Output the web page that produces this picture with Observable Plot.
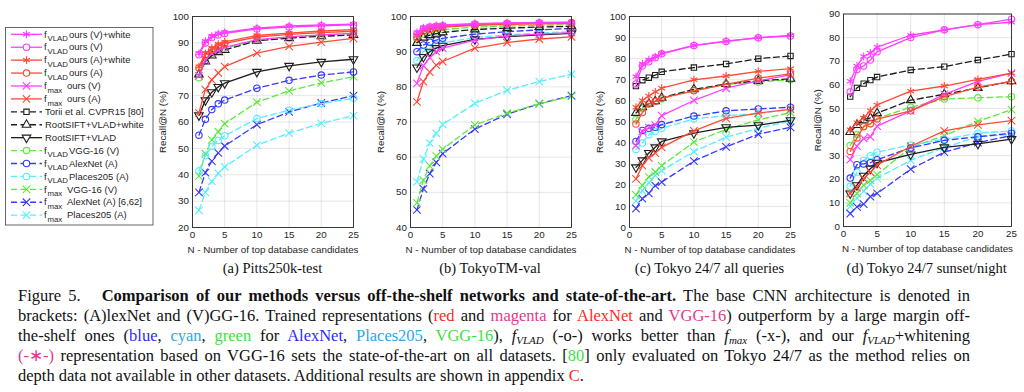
<!DOCTYPE html>
<html><head><meta charset="utf-8">
<script src="https://cdn.jsdelivr.net/npm/d3@7"></script>
<script src="https://cdn.jsdelivr.net/npm/@observablehq/plot@0.6"></script>
<style>
html,body{margin:0;padding:0;background:#fff;width:1024px;height:392px;overflow:hidden;}
#root{position:relative;width:1024px;height:392px;}
.panel{position:absolute;top:0;}
.panel svg{overflow:visible;}
.sub{position:absolute;top:258px;width:240px;text-align:center;font-family:"Liberation Serif","Times New Roman",serif;font-size:14.5px;line-height:20px;color:#111;}
#caption{position:absolute;left:18px;top:286px;width:952px;font-family:"Liberation Serif","Times New Roman",serif;font-size:16.5px;line-height:20px;color:#111;}
#caption div{white-space:nowrap;text-align:justify;text-align-last:justify;}
#caption div.last{text-align-last:left;}
#caption sub{font-size:11px;vertical-align:-3px;line-height:0;font-style:italic;}
.gap{display:inline-block;width:21px;}
.cr{color:#ff2a1a}.cm{color:#e2388e}.cb{color:#2b2bff}.cc{color:#2ea6e6}.cg{color:#3fe03f}
</style></head><body><div id="root"></div>
<script>
// ---------- data ----------
const N = [1, 2, 3, 4, 5, 10, 15, 20, 25];
const seriesNames = [
  "f_VLAD ours (V)+white", "f_VLAD ours (V)", "f_VLAD ours (A)+white", "f_VLAD ours (A)",
  "f_max ours (V)", "f_max ours (A)", "Torii et al. CVPR15 [80]", "RootSIFT+VLAD+white",
  "RootSIFT+VLAD", "f_VLAD VGG-16 (V)", "f_VLAD AlexNet (A)", "f_VLAD Places205 (A)",
  "f_max VGG-16 (V)", "f_max AlexNet (A) [6,62]", "f_max Places205 (A)"
];
const xTicks = [0, 5, 10, 15, 20, 25];
const panelTitles = ["(a) Pitts250k-test", "(b) TokyoTM-val", "(c) Tokyo 24/7 all queries", "(d) Tokyo 24/7 sunset/night"];
const yTicksPitts = [20, 30, 40, 50, 60, 70, 80, 90, 100];
const yTicksTokyoTM = [40, 50, 60, 70, 80, 90, 100];
const yTicksTokyoAll = [0, 10, 20, 30, 40, 50, 60, 70, 80, 90, 100];
const yTicksTokyoNight = [0, 10, 20, 30, 40, 50, 60, 70, 80, 90];

// Recall@N per series (rows in seriesNames order), null = not evaluated
const recallPitts250k = [
  [86.0, 90.6, 92.5, 93.5, 94.0, 95.6, 96.4, 96.8, 97.1],
  [85.5, 90.0, 92.0, 93.0, 93.6, 95.3, 96.0, 96.5, 96.8],
  [81.0, 86.0, 88.0, 89.5, 90.4, 92.8, 93.7, 94.5, 95.0],
  [80.5, 85.5, 87.4, 88.8, 89.8, 92.2, 93.2, 93.9, 94.4],
  [77.5, 83.5, 86.0, 87.3, 88.3, 91.2, 92.3, 93.0, 93.6],
  [63.5, 72.3, 76.0, 78.6, 81.0, 86.1, 88.7, 90.3, 91.7],
  null,
  [78.0, 83.0, 85.2, 86.5, 87.3, 90.8, 91.8, 92.5, 93.0],
  [62.5, 68.2, 71.3, 73.3, 74.7, 79.0, 81.3, 82.8, 83.8],
  [76.8, 83.2, 85.8, 87.0, 88.0, 91.0, 92.3, 93.0, 93.6],
  [55.0, 61.0, 64.7, 66.9, 68.3, 72.8, 75.8, 77.8, 79.0],
  [41.5, 47.2, 50.8, 53.0, 54.8, 61.3, 64.5, 67.0, 69.0],
  [39.5, 48.0, 53.2, 56.3, 59.4, 67.5, 71.8, 74.8, 77.2],
  [33.3, 40.8, 45.2, 48.3, 50.9, 59.0, 63.8, 67.2, 70.0],
  [26.5, 33.3, 37.5, 40.5, 43.0, 51.2, 55.8, 59.5, 62.4]
];
const recallTokyoTM = [
  [95.5, 96.8, 97.2, 97.4, 97.6, 98.0, 98.2, 98.3, 98.4],
  [95.0, 96.5, 97.0, 97.2, 97.4, 97.9, 98.1, 98.2, 98.3],
  [94.6, 96.2, 96.7, 97.0, 97.2, 97.7, 98.0, 98.1, 98.2],
  [94.0, 95.8, 96.3, 96.7, 97.0, 97.5, 97.8, 97.9, 98.0],
  [81.0, 86.0, 88.3, 90.0, 91.0, 93.3, 94.5, 95.0, 95.4],
  [75.7, 81.5, 84.2, 86.2, 87.2, 91.0, 92.6, 93.6, 94.2],
  null,
  [92.5, 94.0, 94.7, 95.1, 95.5, 96.3, 96.7, 97.0, 97.2],
  [85.5, 88.5, 90.0, 91.0, 91.7, 93.5, 94.3, 94.8, 95.2],
  [93.5, 95.0, 95.6, 96.0, 96.3, 97.0, 97.3, 97.5, 97.7],
  [90.0, 91.9, 92.7, 93.3, 93.8, 95.0, 95.7, 96.2, 96.6],
  [87.5, 90.0, 91.2, 92.0, 92.5, 94.0, 94.8, 95.3, 95.7],
  [47.0, 53.5, 57.5, 60.3, 62.3, 69.2, 72.5, 75.2, 77.3],
  [45.0, 51.0, 55.3, 58.5, 61.0, 68.0, 72.2, 75.2, 77.5],
  [53.0, 59.5, 64.0, 66.8, 69.3, 75.3, 79.0, 81.5, 83.6]
];
const recallTokyoAll = [
  [71.5, 77.5, 79.5, 81.0, 82.5, 86.3, 88.3, 90.0, 91.0],
  [68.0, 76.5, 78.5, 80.5, 82.3, 86.2, 88.2, 89.9, 90.8],
  [57.0, 60.2, 62.3, 64.3, 66.0, 70.0, 71.8, 74.0, 75.3],
  [49.0, 54.5, 58.7, 59.8, 61.3, 64.8, 67.8, 70.8, 72.8],
  [38.8, 45.5, 47.3, 48.5, 53.0, 60.2, 66.0, 69.5, 72.3],
  [23.0, 29.3, 33.0, 35.3, 38.0, 45.8, 51.7, 54.2, 56.0],
  [67.0, 69.8, 71.0, 72.2, 73.8, 75.8, 77.5, 80.0, 81.3],
  [54.3, 57.0, 58.7, 59.8, 61.5, 65.5, 68.0, 69.5, 70.5],
  [28.5, 31.8, 35.3, 38.0, 40.8, 44.7, 47.5, 48.5, 50.8],
  [51.2, 56.5, 58.5, 59.7, 61.0, 65.0, 67.8, 69.0, 70.0],
  [40.8, 46.0, 47.0, 47.5, 48.8, 52.8, 55.3, 56.2, 57.0],
  [37.0, 40.0, 44.0, 45.5, 47.0, 51.5, 53.0, 54.0, 56.0],
  [15.5, 20.0, 24.0, 26.3, 29.3, 40.5, 46.5, 51.0, 54.5],
  [9.0, 13.7, 16.2, 19.8, 21.5, 31.5, 38.2, 44.2, 47.5],
  [12.5, 17.5, 21.2, 24.7, 27.0, 36.0, 42.8, 47.0, 50.5]
];
const recallTokyoNight = [
  [61.5, 68.0, 72.0, 73.5, 76.0, 81.0, 83.3, 85.5, 86.5],
  [57.0, 66.5, 68.0, 70.5, 74.0, 80.0, 83.3, 85.5, 87.8],
  [41.0, 44.0, 46.0, 49.0, 51.5, 57.3, 59.5, 62.3, 65.0],
  [31.8, 37.5, 42.3, 43.5, 45.5, 49.0, 55.0, 59.0, 61.5],
  [28.3, 34.0, 37.3, 38.0, 42.5, 49.0, 56.0, 61.5, 65.0],
  [14.0, 16.5, 20.3, 23.0, 26.0, 34.0, 40.5, 43.0, 44.8],
  [55.0, 58.7, 60.5, 62.0, 63.3, 66.3, 67.7, 70.5, 73.0],
  [40.0, 43.0, 45.0, 46.0, 48.0, 53.5, 56.0, 58.7, 61.5],
  [14.0, 17.5, 21.5, 24.5, 27.0, 30.5, 33.5, 35.0, 37.0],
  [34.3, 39.0, 42.5, 43.5, 45.8, 50.5, 54.0, 54.5, 55.0],
  [20.5, 26.2, 26.5, 27.0, 28.3, 33.3, 36.5, 38.0, 39.5],
  [17.0, 23.0, 28.0, 30.0, 31.5, 34.5, 37.0, 39.5, 40.5],
  [10.0, 14.0, 17.5, 19.5, 22.0, 33.5, 38.5, 44.5, 49.5],
  [5.5, 8.3, 9.5, 12.7, 14.0, 24.3, 31.5, 35.5, 38.5],
  [8.5, 12.0, 15.0, 18.0, 20.5, 28.0, 33.5, 38.0, 39.0]
];

// ---------- styles ----------
const MAG = "#ff3dff", RED = "#ff4a38", BLK = "#1e1e1e", GRN = "#5ee83c", BLU = "#3838ff", CYN = "#55eeff";
const DASH = "6,3.5";
const sqrt3 = Math.sqrt(3);
const triangleDown = {
  draw(ctx, size) {
    const y = Math.sqrt(size / (sqrt3 * 3));
    ctx.moveTo(0, y * 2); ctx.lineTo(-sqrt3 * y, -y); ctx.lineTo(sqrt3 * y, -y); ctx.closePath();
  }
};
const triangleUp = {
  draw(ctx, size) {
    const y = Math.sqrt(size / (sqrt3 * 3));
    ctx.moveTo(0, -y * 2); ctx.lineTo(-sqrt3 * y, y); ctx.lineTo(sqrt3 * y, y); ctx.closePath();
  }
};
const seriesStyle = [
  {color: MAG, symbol: "asterisk", dash: null},
  {color: MAG, symbol: "circle", dash: null},
  {color: RED, symbol: "asterisk", dash: null},
  {color: RED, symbol: "circle", dash: null},
  {color: MAG, symbol: "times", dash: null},
  {color: RED, symbol: "times", dash: null},
  {color: BLK, symbol: "square", dash: DASH},
  {color: BLK, symbol: triangleUp, dash: DASH},
  {color: BLK, symbol: triangleDown, dash: null},
  {color: GRN, symbol: "circle", dash: DASH},
  {color: BLU, symbol: "circle", dash: DASH},
  {color: CYN, symbol: "circle", dash: DASH},
  {color: GRN, symbol: "times", dash: DASH},
  {color: BLU, symbol: "times", dash: DASH},
  {color: CYN, symbol: "times", dash: DASH}
];
const symbolRadius = {asterisk: 3.7, circle: 3.2, times: 3.5, square: 3.0};

const root = document.getElementById("root");

function drawPanel(values, yDomain, yTicks, box) {
  const rows = [];
  values.forEach((vals, s) => { if (vals) vals.forEach((r, j) => rows.push({series: s, n: N[j], recall: r})); });
  const marks = [
    Plot.gridX(xTicks, {stroke: "#000", strokeOpacity: 0.1}),
    Plot.gridY(yTicks, {stroke: "#000", strokeOpacity: 0.1})
  ];
  for (let s = seriesStyle.length - 1; s >= 0; --s) {
    const d = rows.filter(r => r.series === s);
    if (!d.length) continue;
    const st = seriesStyle[s];
    marks.push(Plot.line(d, {x: "n", y: "recall", stroke: st.color, strokeWidth: 1.3, strokeDasharray: st.dash}));
    marks.push(Plot.dot(d, {x: "n", y: "recall", symbol: st.symbol, stroke: st.color, fill: "none", strokeWidth: 1.1,
      r: typeof st.symbol === "string" ? symbolRadius[st.symbol] : 3.2}));
  }
  marks.push(Plot.frame({stroke: "#262626", strokeWidth: 0.9}));
  const svg = Plot.plot({
    width: box.width, height: 258,
    marginLeft: box.ml, marginRight: box.width - box.ml - box.fw,
    marginTop: box.mt, marginBottom: 258 - box.fb,
    x: {domain: [0, 25], ticks: xTicks, tickSize: 0, tickPadding: 4,
        label: "N - Number of top database candidates", labelAnchor: "center", labelOffset: 25, labelArrow: "none"},
    y: {domain: yDomain, ticks: yTicks, tickSize: 0, tickPadding: 3.5,
        label: "Recall@N (%)", labelAnchor: "center", labelOffset: box.lo, labelArrow: "none"},
    style: {fontFamily: "'Liberation Sans', Arial, sans-serif", fontSize: "9.8px", color: "#262626", background: "transparent", overflow: "visible"},
    marks
  });
  const div = document.createElement("div");
  div.className = "panel";
  div.style.left = box.left + "px";
  div.appendChild(svg);
  root.appendChild(div);
}

drawPanel(recallPitts250k, [20, 100], yTicksPitts, {left: 140, width: 220, ml: 52, fw: 161, mt: 16, fb: 227, lo: 33.5});
drawPanel(recallTokyoTM, [40, 100], yTicksTokyoTM, {left: 357.5, width: 220, ml: 52, fw: 161, mt: 16, fb: 227, lo: 33});
drawPanel(recallTokyoAll, [0, 100], yTicksTokyoAll, {left: 577.3, width: 220, ml: 52, fw: 161, mt: 16, fb: 227, lo: 33});
drawPanel(recallTokyoNight, [0, 90], yTicksTokyoNight, {left: 790.7, width: 228, ml: 52, fw: 168, mt: 13.5, fb: 226, lo: 29});

// sub captions
const centers = [272.5, 490, 709.5, 926.7];
panelTitles.forEach((t, i) => {
  const d = document.createElement("div");
  d.className = "sub";
  d.style.left = (centers[i] - 120) + "px";
  d.textContent = t;
  root.appendChild(d);
});

// ---------- legend ----------
const symbolTypes = {asterisk: d3.symbolAsterisk, circle: d3.symbolCircle, times: d3.symbolTimes, square: d3.symbolSquare};
const leg = d3.create("svg").attr("width", 160).attr("height", 232)
  .style("position", "absolute").style("left", "0px").style("top", "0px")
  .style("font-family", "'Liberation Sans', Arial, sans-serif").style("font-size", "9.5px").style("fill", "#262626");
leg.append("rect").attr("x", 5.5).attr("y", 27.5).attr("width", 147.5).attr("height", 197.5)
  .attr("fill", "#fff").attr("stroke", "#555").attr("stroke-width", 0.9);
seriesNames.forEach((name, i) => {
  const st = seriesStyle[i];
  const y = 34.3 + i * 12.92;
  const g = leg.append("g").attr("transform", `translate(0,${y})`);
  g.append("line").attr("x1", 11).attr("x2", 42).attr("stroke", st.color).attr("stroke-width", 1.3)
    .attr("stroke-dasharray", st.dash);
  const type = typeof st.symbol === "string" ? symbolTypes[st.symbol] : st.symbol;
  const r = typeof st.symbol === "string" ? symbolRadius[st.symbol] : 3.2;
  g.append("path").attr("transform", "translate(26.5,0)")
    .attr("d", d3.symbol().type(type).size(Math.PI * r * r)())
    .attr("fill", "#fff").attr("stroke", st.color).attr("stroke-width", 1.1);
  const m = name.match(/^f_(VLAD|max) (.*)$/);
  if (m) {
    const t = g.append("text").attr("x", 44).attr("y", 3.2);
    t.append("tspan").text("f");
    t.append("tspan").attr("dy", 3.6).attr("dx", 0.8).style("font-size", "7.8px").text(m[1]);
    g.append("text").attr("x", m[1] === "VLAD" ? 69 : 67).attr("y", 3.2).text(m[2]);
  } else {
    g.append("text").attr("x", 45).attr("y", 3.2).text(name);
  }
});
root.appendChild(leg.node());

// ---------- figure caption ----------
const cap = document.createElement("div");
cap.id = "caption";
cap.innerHTML =
  '<div>Figure 5.<span class="gap"></span><b>Comparison of our methods versus off-the-shelf networks and state-of-the-art.</b> The base CNN architecture is denoted in</div>' +
  '<div>brackets: (A)lexNet and (V)GG-16. Trained representations (<span class="cr">red</span> and <span class="cm">magenta</span> for <span class="cr">AlexNet</span> and <span class="cm">VGG-16</span>) outperform by a large margin off-</div>' +
  '<div>the-shelf ones (<span class="cb">blue</span>, <span class="cc">cyan</span>, <span class="cg">green</span> for <span class="cb">AlexNet</span>, <span class="cc">Places205</span>, <span class="cg">VGG-16</span>), <i>f</i><sub>VLAD</sub> (-o-) works better than <i>f</i><sub>max</sub> (-x-), and our <i>f</i><sub>VLAD</sub>+whitening</div>' +
  '<div><span class="cm">(-∗-)</span> representation based on VGG-16 sets the state-of-the-art on all datasets. [<span class="cg">80</span>] only evaluated on Tokyo 24/7 as the method relies on</div>' +
  '<div class="last">depth data not available in other datasets. Additional results are shown in appendix <span class="cr">C</span>.</div>';
root.appendChild(cap);
</script>
</body></html>
